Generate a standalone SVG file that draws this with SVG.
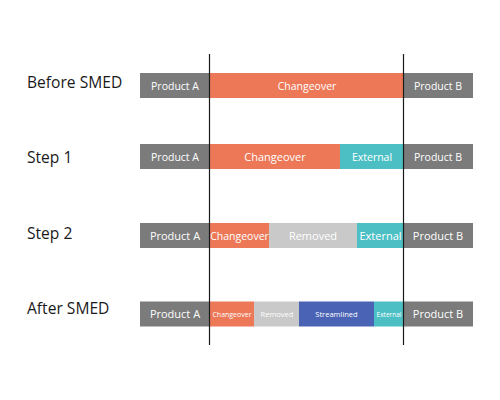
<svg xmlns="http://www.w3.org/2000/svg" width="500" height="400" viewBox="0 0 500 400">
<style>
.lbl{font-family:"Open Sans","Noto Sans",sans-serif;font-size:15.6px;fill:#1a1a1a}
.t{font-family:"Open Sans","Noto Sans",sans-serif;font-size:10.5px;fill:#ffffff;text-anchor:middle}
.b{font-size:11px}
.s{font-family:"Open Sans","Noto Sans",sans-serif;font-size:7px;fill:#ffffff;text-anchor:middle}
.prod{fill:#7b7b7b}
.chg{fill:#ec7858}
.ext{fill:#4cbfc5}
.rem{fill:#c9c9c9}
.str{fill:#4a63b5}
</style>
<rect width="500" height="400" fill="#ffffff"/>
<g id="row-before">
<text class="lbl" x="27" y="88">Before SMED</text>
<rect class="prod" x="140" y="73" width="70" height="25"/>
<text class="t" x="175" y="89.5">Product A</text>
<rect class="chg" x="210" y="73" width="194" height="25"/>
<text class="t" x="307" y="89.5">Changeover</text>
<rect class="prod" x="404" y="73" width="69" height="25"/>
<text class="t" x="438" y="89.5">Product B</text>
</g>
<g id="row-step1">
<text class="lbl" x="27" y="163">Step 1</text>
<rect class="prod" x="140" y="144" width="70" height="25"/>
<text class="t" x="175" y="160.5">Product A</text>
<rect class="chg" x="210" y="144" width="130" height="25"/>
<text class="t b" x="275" y="160.5">Changeover</text>
<rect class="ext" x="340" y="144" width="64" height="25"/>
<text class="t" x="372" y="160.5">External</text>
<rect class="prod" x="404" y="144" width="69" height="25"/>
<text class="t" x="438" y="160.5">Product B</text>
</g>
<g id="row-step2">
<text class="lbl" x="27" y="239">Step 2</text>
<rect class="prod" x="140" y="223" width="70" height="25"/>
<text class="t b" x="175" y="239.5">Product A</text>
<rect class="chg" x="210" y="223" width="59" height="25"/>
<text class="t" x="239.5" y="239.5">Changeover</text>
<rect class="rem" x="269" y="223" width="88" height="25"/>
<text class="t b" x="313" y="239.5">Removed</text>
<rect class="ext" x="357" y="223" width="47" height="25"/>
<text class="t b" x="380.5" y="239.5">External</text>
<rect class="prod" x="404" y="223" width="69" height="25"/>
<text class="t b" x="438" y="239.5">Product B</text>
</g>
<g id="row-after">
<text class="lbl" x="27" y="314">After SMED</text>
<rect class="prod" x="140" y="301.5" width="70" height="25"/>
<text class="t b" x="175" y="318">Product A</text>
<rect class="chg" x="210" y="301.5" width="44" height="25"/>
<text class="s" x="232" y="316.5">Changeover</text>
<rect class="rem" x="254" y="301.5" width="45" height="25"/>
<text class="s" x="277" y="316.5" style="font-size:7.5px">Removed</text>
<rect class="str" x="299" y="301.5" width="75" height="25"/>
<text class="s" x="336.5" y="316.5" style="font-size:7.5px">Streamlined</text>
<rect class="ext" x="374" y="301.5" width="30" height="25"/>
<text class="s" x="389" y="316.5" style="font-size:6.5px">External</text>
<rect class="prod" x="404" y="301.5" width="69" height="25"/>
<text class="t b" x="438" y="318">Product B</text>
</g>
<g id="connectors" stroke="#1a1a1a" stroke-width="1.2">
<line x1="209.5" y1="54" x2="209.5" y2="345"/>
<line x1="403.5" y1="54" x2="403.5" y2="345"/>
</g>
</svg>
